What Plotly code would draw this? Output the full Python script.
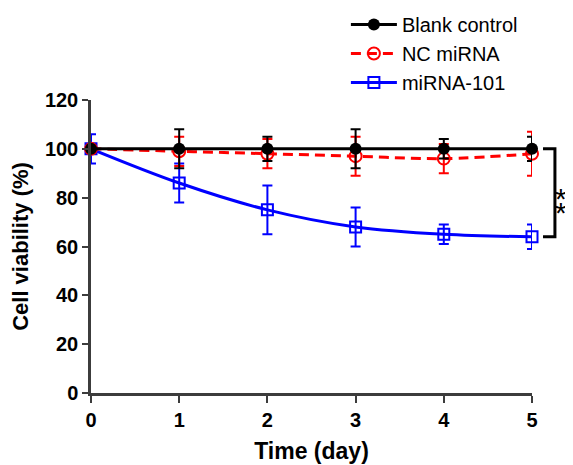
import plotly.graph_objects as go

days = [0, 1, 2, 3, 4, 5]
blank_mean = [100, 100, 100, 100, 100, 100]
blank_err = [0, 8, 5, 8, 4, 5]
nc_mean = [100, 99, 98, 97, 96, 98]
nc_err = [0, 6, 6, 8, 6, 9]
mir_mean = [100, 86, 75, 68, 65, 64]
mir_err = [6, 8, 10, 8, 4, 5]

names = ["Blank control", "NC miRNA", "miRNA-101"]
x_ticks = [0, 1, 2, 3, 4, 5]
y_ticks = [0, 20, 40, 60, 80, 100, 120]

FONT = "Arial, Liberation Sans, Helvetica, sans-serif"
AXC = "#3c3c3c"

fig = go.Figure()

fig.add_trace(go.Scatter(
    x=days, y=mir_mean, name=names[2], mode="lines+markers",
    line=dict(color="#0000ff", width=3, shape="spline"),
    marker=dict(symbol="square-open", size=11, color="#0000ff", line=dict(width=2)),
    error_y=dict(type="data", array=mir_err, color="#0000ff", thickness=2, width=5),
    cliponaxis=False, legendrank=3,
))
fig.add_trace(go.Scatter(
    x=days, y=nc_mean, name=names[1], mode="lines+markers",
    line=dict(color="#ff0000", width=3, dash="10px,6px", shape="spline"),
    marker=dict(symbol="circle-open", size=12, color="#ff0000", line=dict(width=2)),
    error_y=dict(type="data", array=nc_err, color="#ff0000", thickness=2, width=5),
    cliponaxis=False, legendrank=2,
))
fig.add_trace(go.Scatter(
    x=days, y=blank_mean, name=names[0], mode="lines+markers",
    line=dict(color="#000000", width=3),
    marker=dict(symbol="circle", size=12, color="#000000"),
    error_y=dict(type="data", array=blank_err, color="#000000", thickness=2, width=5),
    cliponaxis=False, legendrank=1,
))

# significance bracket
fig.add_shape(type="path", xref="paper", yref="y",
              path="M 1.025 100 L 1.052 100 L 1.052 64 L 1.025 64",
              line=dict(color="black", width=3))
for ystar in (82.4, 76.9):
    fig.add_annotation(x=1.084, y=ystar, xref="paper", yref="y", text="*",
                       showarrow=False, yshift=-7,
                       font=dict(family=FONT, size=30, color="black"))

fig.update_layout(
    width=573, height=465,
    margin=dict(l=83, r=49, t=92, b=80, autoexpand=False),
    paper_bgcolor="white", plot_bgcolor="white",
    font=dict(family=FONT, color="black"),
    showlegend=True,
    legend=dict(x=0.578, y=1.324, xref="paper", yref="paper",
                xanchor="left", yanchor="top",
                font=dict(family=FONT, size=20, color="black"),
                bgcolor="rgba(0,0,0,0)", tracegroupgap=0, itemwidth=46),
)
fig.update_xaxes(
    range=[0, 5], tickvals=x_ticks, ticks="outside", ticklen=7, tickwidth=2,
    tickcolor=AXC, showline=True, linecolor=AXC, linewidth=2.5, showgrid=False,
    zeroline=False, tickfont=dict(family=FONT, size=20, weight="bold"),
    title=dict(text="Time (day)", font=dict(family=FONT, size=23, weight="bold"), standoff=14),
)
fig.update_yaxes(
    range=[0, 120], tickvals=y_ticks, ticks="outside", ticklen=6, tickwidth=2,
    tickcolor=AXC, showline=True, linecolor=AXC, linewidth=2.5, showgrid=False,
    zeroline=False, tickfont=dict(family=FONT, size=20, weight="bold"),
    title=dict(text="Cell viability (%)", font=dict(family=FONT, size=22, weight="bold"), standoff=12),
)

fig.write_html("out.html")
